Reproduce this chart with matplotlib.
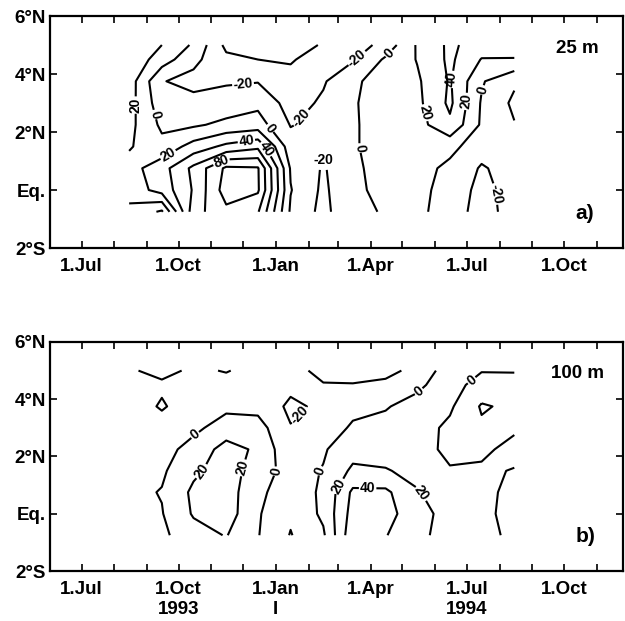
import numpy as np
import matplotlib
matplotlib.use("Agg")
import matplotlib.pyplot as plt
import matplotlib.dates as mdates
from matplotlib.ticker import FuncFormatter

plt.rcParams.update({'font.family': ['Liberation Sans', 'DejaVu Sans'], 'font.weight': 'bold',
                     'font.size': 13.5, 'axes.unicode_minus': False})

# mid-month sample times
months = ['1993-08-15', '1993-09-15', '1993-10-15', '1993-11-15', '1993-12-15',
          '1994-01-15', '1994-02-15', '1994-03-15', '1994-04-15', '1994-05-15',
          '1994-06-15', '1994-07-15', '1994-08-15']
# latitude of each row (north at top)
lats = [5.0, 4.5, 3.75, 3.0, 2.25, 1.5, 0.75, 0.0, -0.75]

# velocity (cm/s) at 25 m, rows = lats, cols = months
u25 = [
    [30, 20, -3, -45, -48, -50, -38, -32, -12, 22, 44, 30, 28],
    [35, 10, -15, -35, -40, -42, -30, -22, 3, 21, 44, 19, 19],
    [30, -19, -26, -22, -21, -33, -22, -4, 10, 17, 42, 2, -17],
    [28, -12, -14, -12, -5, -28, -17, -2, 10, 15, 44, -2, -24],
    [26, -4, -3, 5, 9, -21, -14, -2, 8, 12, 36, -3, -19],
    [22, 6, 28, 45, 55, -12, -17, -2, 8, 10, 6, -12, -10],
    [12, 32, 65, 104, 102, -2, -22, -4, 8, 8, -5, -22, -12],
    [8, 28, 62, 110, 103, 1, -24, -3, 4, 6, -8, -26, -12],
    [-5, -23, 72, 95, 82, -3, -26, -3, 1, 5, -10, -28, -12],
]

# velocity (cm/s) at 100 m
u100 = [
    [-18, -25, -17, -21, -14, -14, -25, -28, -24, -16, 12, 1, 1],
    [-12, -17, -12, -14, -10, -15, -19, -19, -17, -3, 8, -8, -6],
    [-10, -22, -10, -5, -6, -24, -16, -6, -1, 5, 3, -22, -16],
    [-10, -12, -5, 10, 8, -19, -12, 3, 4, 8, -4, -17, -3],
    [-8, -8, 8, 27, 17, -16, -2, 12, 8, 10, -6, -4, 6],
    [-6, -3, 16, 30, 10, -8, 1, 24, 22, 12, 2, 3, -1],
    [-5, 1, 24, 30, 4, -10, 3, 44, 44, 22, 5, 6, -6],
    [-5, -1, 22, 30, 2, -17, 4, 48, 43, 35, 5, 6, -8],
    [-5, -4, 12, 21, 1, -21, -3, 55, 41, 25, 12, 7, -5],
]

levels = [-60, -40, -20, 0, 20, 40, 60, 80, 100]
ytick_vals = [-2, 0, 2, 4, 6]
ytick_labels = ['2°S', 'Eq.', '2°N', '4°N', '6°N']

# where the contour labels sit (date, lat)
labels_a = [('1993-08-19', 2.93), ('1993-09-07', 2.59), ('1993-12-01', 3.62),
            ('1994-02-02', 2.24), ('1993-12-28', 2.17), ('1993-09-20', 1.28),
            ('1993-12-04', 1.72), ('1993-12-22', 1.40), ('1993-11-11', 0.93),
            ('1994-03-22', 4.41), ('1994-04-22', 4.59), ('1994-03-22', 1.45),
            ('1994-02-16', 1.31), ('1994-05-22', 2.66), ('1994-06-21', 3.79),
            ('1994-07-04', 3.05), ('1994-07-16', 3.45), ('1994-08-06', -0.1)]
labels_b = [('1993-10-17', 2.73), ('1993-10-20', 1.57), ('1993-12-04', 1.57),
            ('1993-12-31', 1.5), ('1994-01-26', 3.36), ('1994-02-12', 1.5),
            ('1994-03-01', 0.98), ('1994-03-29', 0.87), ('1994-05-12', 0.56),
            ('1994-05-20', 4.13), ('1994-07-08', 4.55)]

t = mdates.date2num(np.array(months, dtype='datetime64[D]'))
y = np.array(lats)

fig = plt.figure(figsize=(6.25, 6.21), dpi=100)
ax_a = fig.add_axes([0.08, 0.6006, 0.9168, 0.3736])
ax_b = fig.add_axes([0.08, 0.0805, 0.9168, 0.3688])

x0 = mdates.date2num(np.datetime64('1993-06-01'))
x1 = mdates.date2num(np.datetime64('1994-11-26'))


def fmt_month(x, pos):
    return '1.' + mdates.num2date(x).strftime('%b')


for ax, data, lab, tag, depth in [(ax_a, u25, labels_a, 'a)', '25 m'),
                                  (ax_b, u100, labels_b, 'b)', '100 m')]:
    ax.set_xlim(x0, x1)
    ax.set_ylim(-2, 6)
    cs = ax.contour(t, y, np.array(data, dtype=float), levels=levels,
                    colors='black', linewidths=1.5, linestyles='solid')
    pos = [(mdates.date2num(np.datetime64(d)), la) for d, la in lab]
    ax.clabel(cs, fmt='%d', fontsize=10, manual=pos, inline=True, inline_spacing=1)

    ax.set_yticks(ytick_vals)
    ax.set_yticklabels(ytick_labels)
    ax.xaxis.set_major_locator(mdates.MonthLocator(bymonth=[1, 4, 7, 10]))
    ax.xaxis.set_minor_locator(mdates.MonthLocator())
    ax.xaxis.set_major_formatter(FuncFormatter(fmt_month))
    ax.tick_params(which='both', direction='in', top=True, right=True, length=5, width=1.2)
    ax.tick_params(axis='x', pad=7)
    ax.tick_params(axis='y', pad=3)
    for s in ax.spines.values():
        s.set_linewidth(1.6)

    ax.text(0.92, 0.862, depth, transform=ax.transAxes, ha='center', va='center', fontsize=13.5)
    ax.text(0.934, 0.15, tag, transform=ax.transAxes, ha='center', va='center', fontsize=15)

# year labels under the lower panel
for d, s in [('1993-10-01', '1993'), ('1994-01-01', 'I'), ('1994-07-01', '1994')]:
    ax_b.annotate(s, xy=(mdates.date2num(np.datetime64(d)), -0.17),
                  xycoords=('data', 'axes fraction'), ha='center', va='center', fontsize=13.5)

plt.savefig('out.png', dpi=100)
